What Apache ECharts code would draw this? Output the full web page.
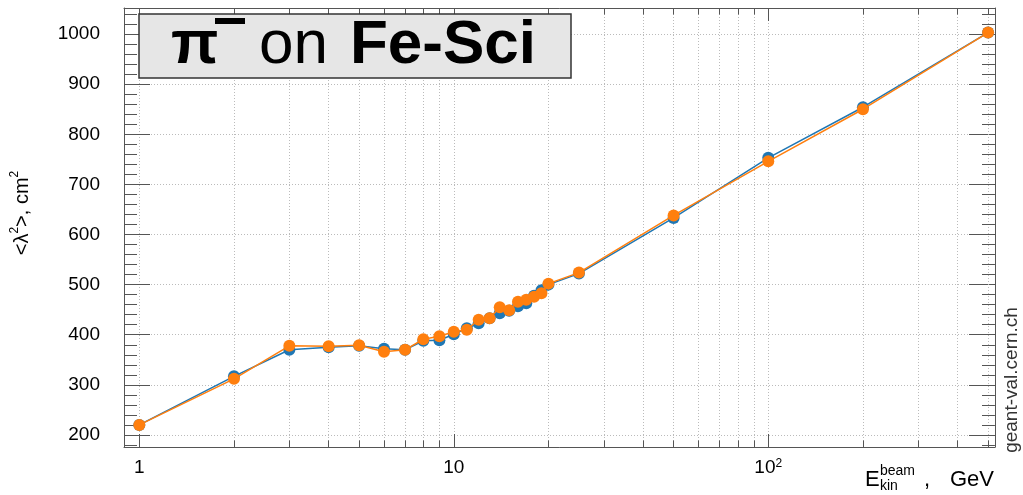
<!DOCTYPE html>
<html>
<head>
<meta charset="utf-8">
<script src="https://cdn.jsdelivr.net/npm/echarts@6/dist/echarts.min.js"></script>
<style>
html,body{margin:0;padding:0;background:#fff}
#chart{width:1023px;height:495px}
</style>
</head>
<body>
<div id="chart"></div>
<script>
// ---- data ----
const energies = [1,2,3,4,5,6,7,8,9,10,11,12,13,14,15,16,17,18,19,20,25,50,100,200,500];
const blueValues = [220,317,370,375,378,372,370,388,389,401,413,423,433,443,448,457,463,478,489,500,522,633,753,854,1003];
const orangeValues = [220,312,378,377,379,366,370,391,397,406,410,430,433,455,449,466,470,476,483,502,524,638,746,850,1003];
const xMinorTicks = [2,3,4,5,6,7,8,9,20,30,40,50,60,70,80,90,200,300,400,500];
const yMinorTicks = [180,220,240,260,280,320,340,360,380,420,440,460,480,520,540,560,580,620,640,660,680,720,740,760,780,820,840,860,880,920,940,960,980,1020,1040];

// ---- layout ----
const X_MIN = 0.894, X_MAX = 526, Y_MIN = 176, Y_MAX = 1052;
const FONT = '"Liberation Sans", Arial, sans-serif';
const FRAME = '#555';
const gridStyle = {color:'#bbbbbb', type:[1,2], width:1};
const tickStyle = {color:FRAME, type:'solid', width:1};
const X_TICK_UNITS = 13;               // ~6.5px in y units
const X_FACTOR = Math.pow(10, 13/314.5); // ~13px in log-x

const mk = [];
xMinorTicks.forEach(v => mk.push({xAxis: v, lineStyle: gridStyle}));
xMinorTicks.forEach(v => {
  mk.push([{coord:[v, Y_MIN + 0.05], lineStyle: tickStyle}, {coord:[v, Y_MIN + X_TICK_UNITS]}]);
  mk.push([{coord:[v, Y_MAX - 0.05], lineStyle: tickStyle}, {coord:[v, Y_MAX - X_TICK_UNITS]}]);
});
yMinorTicks.forEach(v => {
  mk.push([{coord:[X_MIN * 1.0005, v], lineStyle: tickStyle}, {coord:[X_MIN * X_FACTOR, v]}]);
  mk.push([{coord:[X_MAX / 1.0005, v], lineStyle: tickStyle}, {coord:[X_MAX / X_FACTOR, v]}]);
});

const chart = echarts.init(document.getElementById('chart'), null, {renderer:'canvas'});

function xFmt(v) {
  const l = Math.log10(v), p = Math.round(l);
  if (Math.abs(l - p) > 1e-6) return '';
  if (p === 0) return '1';
  if (p === 1) return '10';
  return '10{sup|' + p + '}';
}

const option = {
  animation: false,
  backgroundColor: '#fff',
  grid: {left:124, right:28, top:8, bottom:48, containLabel:false},
  xAxis: [
    {
      type:'log', logBase:10, min:X_MIN, max:X_MAX, position:'bottom',
      axisLine:{show:true, onZero:false, lineStyle:{color:FRAME, width:1}},
      axisTick:{show:true, inside:true, length:13, lineStyle:{color:FRAME}},
      minorTick:{show:false}, minorSplitLine:{show:false},
      splitLine:{show:true, lineStyle:gridStyle},
      axisLabel:{show:true, showMinLabel:false, showMaxLabel:false, margin:11,
        fontFamily:FONT, fontSize:19, color:'#000', formatter:xFmt,
        rich:{sup:{fontSize:12, lineHeight:12, verticalAlign:'top', fontFamily:FONT, color:'#000'}}}
    },
    {
      type:'log', logBase:10, min:X_MIN, max:X_MAX, position:'top',
      axisLine:{show:true, onZero:false, lineStyle:{color:FRAME, width:1}},
      axisTick:{show:true, inside:true, length:13, lineStyle:{color:FRAME}},
      minorTick:{show:false}, splitLine:{show:false}, axisLabel:{show:false}
    }
  ],
  yAxis: [
    {
      type:'value', min:Y_MIN, max:Y_MAX, splitNumber:9, position:'left',
      axisLine:{show:true, onZero:false, lineStyle:{color:FRAME, width:1}},
      axisTick:{show:true, inside:true, length:26, lineStyle:{color:FRAME}},
      minorTick:{show:false},
      splitLine:{show:true, lineStyle:gridStyle},
      axisLabel:{show:true, showMinLabel:false, showMaxLabel:false, margin:24,
        fontFamily:FONT, fontSize:19, color:'#000', formatter: v => String(Math.round(v))}
    },
    {
      type:'value', min:Y_MIN, max:Y_MAX, splitNumber:9, position:'right',
      axisLine:{show:true, onZero:false, lineStyle:{color:FRAME, width:1}},
      axisTick:{show:true, inside:true, length:26, lineStyle:{color:FRAME}},
      minorTick:{show:false}, splitLine:{show:false}, axisLabel:{show:false}
    }
  ],
  series: [
    {
      type:'line', name:'blue', xAxisIndex:0, yAxisIndex:0,
      data: energies.map((e,i) => [e, blueValues[i]]),
      symbol:'circle', symbolSize:12, showAllSymbol:true,
      lineStyle:{color:'#1f77b4', width:1.5},
      itemStyle:{color:'#1f77b4'},
      z:3,
      markLine:{
        silent:true, symbol:['none','none'], z:1, animation:false,
        label:{show:false}, emphasis:{disabled:true},
        lineStyle:tickStyle,
        data: mk
      }
    },
    {
      type:'line', name:'orange', xAxisIndex:0, yAxisIndex:0,
      data: energies.map((e,i) => [e, orangeValues[i]]),
      symbol:'circle', symbolSize:12, showAllSymbol:true,
      lineStyle:{color:'#ff7f0e', width:1.5},
      itemStyle:{color:'#ff7f0e'},
      z:4
    }
  ],
  graphic: [
    {type:'rect', shape:{x:139, y:14, width:432, height:64},
     style:{fill:'#e6e6e6', stroke:'#333', lineWidth:1.5}, z:10},
    {type:'text', x:171, y:46, z:11,
     style:{text:'π', font:'bold 62px ' + FONT, fill:'#000', align:'left', verticalAlign:'middle'}},
    {type:'rect', shape:{x:215, y:18, width:30, height:6}, style:{fill:'#000'}, z:11},
    {type:'text', x:259, y:46, z:11,
     style:{text:'on', font:'62px ' + FONT, fill:'#000', align:'left', verticalAlign:'middle'}},
    {type:'text', x:350, y:46, z:11,
     style:{text:'Fe-Sci', font:'bold 62px ' + FONT, fill:'#000', align:'left', verticalAlign:'middle'}},
    {type:'text', x:22, y:213, rotation:Math.PI/2, z:11,
     style:{text:'{n|<λ}{sup|2}{n|>, cm}{sup|2}', align:'center', verticalAlign:'middle',
       rich:{n:{fontSize:20, lineHeight:26, fontFamily:FONT, fill:'#000'},
             sup:{fontSize:12, lineHeight:12, verticalAlign:'top', fontFamily:FONT, fill:'#000'}}}},
    {type:'text', x:865, y:480, z:11,
     style:{text:'E', font:'22px ' + FONT, fill:'#000', align:'left', verticalAlign:'middle'}},
    {type:'text', x:880, y:471, z:11,
     style:{text:'beam', font:'14px ' + FONT, fill:'#000', align:'left', verticalAlign:'middle'}},
    {type:'text', x:880, y:486, z:11,
     style:{text:'kin', font:'14px ' + FONT, fill:'#000', align:'left', verticalAlign:'middle'}},
    {type:'text', x:924, y:480, z:11,
     style:{text:',', font:'22px ' + FONT, fill:'#000', align:'left', verticalAlign:'middle'}},
    {type:'text', x:994, y:480, z:11,
     style:{text:'GeV', font:'22px ' + FONT, fill:'#000', align:'right', verticalAlign:'middle'}},
    {type:'text', x:1012, y:380, rotation:Math.PI/2, z:11,
     style:{text:'geant-val.cern.ch', font:'19px ' + FONT, fill:'#333', align:'center', verticalAlign:'middle'}}
  ]
};
chart.setOption(option);
</script>
</body>
</html>
